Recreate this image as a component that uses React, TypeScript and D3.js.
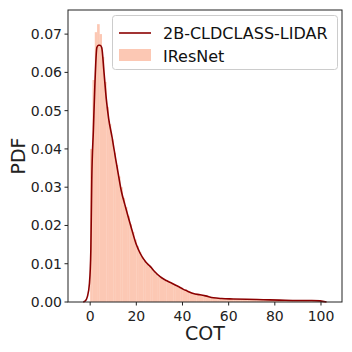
import * as React from "react"
import * as d3 from "d3"

// IResNet histogram, bins of width 1 starting at 0
const binStart = 0
const binWidth = 1
const histValues = [
    0.040, 0.058, 0.0705, 0.0726, 0.0700, 0.0640, 0.0575, 0.0510, 0.0465, 0.0425,
    0.0390, 0.0358, 0.0328, 0.0300, 0.0272, 0.0248, 0.0225, 0.0203, 0.0183, 0.0163,
    0.0146, 0.0131, 0.0118, 0.0108, 0.0100, 0.0093, 0.0086, 0.0079, 0.0073, 0.0067,
    0.0063, 0.0059, 0.0055, 0.0052, 0.0049, 0.0047, 0.0044, 0.0040, 0.0037, 0.0034,
    0.0031, 0.0029, 0.0026, 0.0024, 0.0022, 0.0021, 0.0020, 0.0019, 0.0018, 0.0016,
    0.0014, 0.0013, 0.0012, 0.0011, 0.0010, 0.0010, 0.0009, 0.0009, 0.0009, 0.0008,
    0.0008, 0.0008, 0.0008, 0.0007, 0.0007, 0.0007, 0.0007, 0.0006, 0.0006, 0.0006,
    0.0006, 0.0006, 0.0005, 0.0005, 0.0005, 0.0005, 0.0005, 0.0005, 0.0005, 0.0004,
    0.0004, 0.0004, 0.0004, 0.0004, 0.0004, 0.0004, 0.0004, 0.0003, 0.0003, 0.0003,
    0.0003, 0.0003, 0.0003, 0.0003, 0.0003, 0.0003, 0.0003, 0.0002, 0.0002, 0.0002,
]

// 2B-CLDCLASS-LIDAR density curve
const kdeX = [
    -3, -2.2, -1.2, -0.3, 0.3, 0.7, 1.4, 2.0, 2.9, 3.6, 4.3, 5.0, 6.0, 7.0, 8.0, 9.5,
    11, 12.3, 13.5, 15, 16.5, 18, 20, 21.6, 24, 26, 28, 30.3, 33, 35.4, 38, 40.4, 42,
    44.7, 47.6, 50, 53.4, 57, 62, 67.8, 75, 82, 90, 96, 99.6, 102.4,
]
const kdeY = [
    0, 0.0002, 0.0014, 0.0049, 0.0136, 0.032, 0.045, 0.056, 0.0665, 0.0671, 0.0671, 0.0665, 0.060, 0.053, 0.048, 0.043,
    0.0375, 0.033, 0.029, 0.0255, 0.0222, 0.019, 0.015, 0.0128, 0.0105, 0.0093, 0.0079, 0.0066, 0.0056, 0.0049, 0.0041, 0.0033, 0.0029,
    0.0022, 0.0019, 0.0016, 0.0011, 0.0009, 0.0008, 0.0007, 0.0006, 0.0005, 0.0004, 0.0004, 0.0003, 0,
]

const xTicks = [0, 20, 40, 60, 80, 100]
const yTicks = [0, 0.01, 0.02, 0.03, 0.04, 0.05, 0.06, 0.07]
const seriesNames = ["2B-CLDCLASS-LIDAR", "IResNet"]

const font = "DejaVu Sans, sans-serif"

function App() {
    const width = 352
    const height = 352
    const left = 68, right = 342, top = 10, bottom = 302

    const x = d3.scaleLinear().domain([-9.6, 109.1]).range([left, right])
    const y = d3.scaleLinear().domain([0, 0.0763]).range([bottom, top])

    const line = d3.line<number>()
        .x((d, i) => x(kdeX[i]))
        .y((d) => y(d))
        .curve(d3.curveMonotoneX)

    const fmt = d3.format(".2f")
    const histColor = "#fcc8b4"
    const lineColor = "#8b0000"

    return (
        <svg width={width} height={height} style={{ position: "absolute", left: 0, top: 0, background: "#fff" }} fontFamily={font}>
            {histValues.map((v, i) => {
                const x0 = x(binStart + i * binWidth)
                const x1 = x(binStart + (i + 1) * binWidth)
                return <rect key={i} x={x0} y={y(v)} width={x1 - x0 + 0.3} height={y(0) - y(v)} fill={histColor} />
            })}
            <path d={line(kdeY) || ""} fill="none" stroke={lineColor} strokeWidth={1.6} />

            <rect x={left} y={top} width={right - left} height={bottom - top} fill="none" stroke="#222" strokeWidth={1} />

            {xTicks.map((t) => (
                <g key={t}>
                    <line x1={x(t)} x2={x(t)} y1={bottom} y2={bottom + 3.5} stroke="#222" />
                    <text x={x(t)} y={bottom + 19} fontSize={14} textAnchor="middle" fill="#222">{t}</text>
                </g>
            ))}
            {yTicks.map((t) => (
                <g key={t}>
                    <line x1={left - 3.5} x2={left} y1={y(t)} y2={y(t)} stroke="#222" />
                    <text x={left - 6} y={y(t)} dy="0.35em" fontSize={14} textAnchor="end" fill="#222">{fmt(t)}</text>
                </g>
            ))}

            <text x={(left + right) / 2} y={340} fontSize={19} textAnchor="middle" fill="#222">COT</text>
            <text transform={`translate(25,${(top + bottom) / 2}) rotate(-90)`} fontSize={19} textAnchor="middle" fill="#222">PDF</text>

            <g>
                <rect x={112.5} y={15.5} width={225} height={54} rx={3} fill="#fff" fillOpacity={0.8} stroke="#ccc" />
                <line x1={119} x2={151} y1={33} y2={33} stroke={lineColor} strokeWidth={1.6} />
                <text x={163} y={33} dy="0.35em" fontSize={16} fill="#111">{seriesNames[0]}</text>
                <rect x={119} y={49} width={32} height={12} fill={histColor} />
                <text x={163} y={56} dy="0.35em" fontSize={16} fill="#111">{seriesNames[1]}</text>
            </g>
        </svg>
    )
}

export default App
